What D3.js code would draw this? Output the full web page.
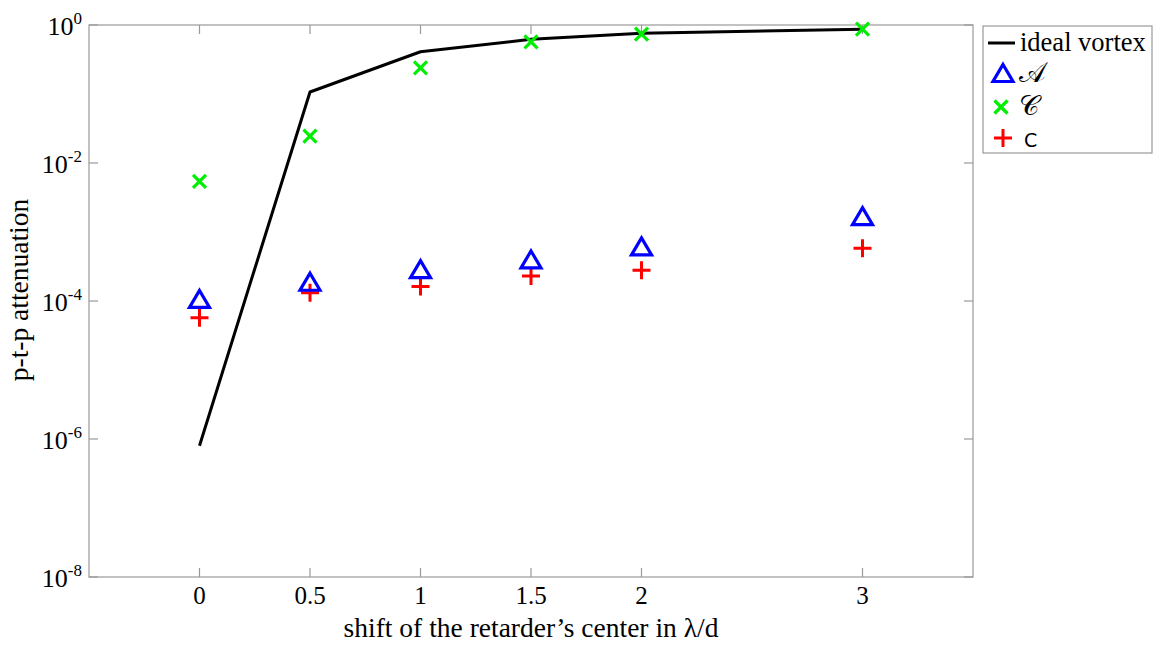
<!DOCTYPE html>
<html>
<head>
<meta charset="utf-8">
<script src="https://cdn.jsdelivr.net/npm/d3@7"></script>
<style>
  html, body { margin: 0; padding: 0; background: #fff; }
  svg { display: block; }
  text { font-family: "Liberation Serif", "Times New Roman", serif; fill: #000; }
</style>
</head>
<body>
<svg id="chart" width="1157" height="648"></svg>
<script>
// Retarder-center shift (λ/d)
const shifts = [0, 0.5, 1, 1.5, 2, 3];
// Ideal vortex attenuation curve
const idealVortex = [8e-7, 0.107, 0.41, 0.62, 0.76, 0.87];
// Measured attenuation for each configuration
const seriesA = [1.07e-4, 1.9e-4, 2.9e-4, 4.0e-4, 6.2e-4, 1.7e-3];
const seriesScriptC = [5.4e-3, 0.0246, 0.24, 0.57, 0.74, 0.87];
const seriesC = [5.7e-5, 1.32e-4, 1.62e-4, 2.3e-4, 2.8e-4, 5.8e-4];
// Axis ticks
const xTicks = [0, 0.5, 1, 1.5, 2, 3];
const yTickExponents = [0, -2, -4, -6, -8];

const svg = d3.select("#chart");
const plotLeft = 89, plotRight = 973, plotTop = 25, plotBottom = 577;

const x = d3.scaleLinear().domain([-0.5, 3.5]).range([plotLeft, plotRight]);
const y = d3.scaleLog().domain([1e-8, 1]).range([plotBottom, plotTop]);

const frameColor = "#999";
const tickLen = 9;

// Plot frame
svg.append("rect")
  .attr("x", plotLeft).attr("y", plotTop)
  .attr("width", plotRight - plotLeft).attr("height", plotBottom - plotTop)
  .attr("fill", "none").attr("stroke", frameColor).attr("stroke-width", 1.2);

// X ticks (bottom and top, pointing inward)
const xt = svg.append("g");
xTicks.forEach(t => {
  const px = x(t);
  xt.append("line").attr("x1", px).attr("x2", px).attr("y1", plotBottom).attr("y2", plotBottom - tickLen)
    .attr("stroke", frameColor).attr("stroke-width", 1.2);
  xt.append("line").attr("x1", px).attr("x2", px).attr("y1", plotTop).attr("y2", plotTop + tickLen)
    .attr("stroke", frameColor).attr("stroke-width", 1.2);
  xt.append("text").attr("x", px).attr("y", 604)
    .attr("text-anchor", "middle").attr("font-size", 25)
    .text(String(t));
});

// Y ticks (left and right, pointing inward), labels as powers of ten
const yt = svg.append("g");
yTickExponents.forEach(e => {
  const py = y(Math.pow(10, e));
  yt.append("line").attr("x1", plotLeft).attr("x2", plotLeft + tickLen).attr("y1", py).attr("y2", py)
    .attr("stroke", frameColor).attr("stroke-width", 1.2);
  yt.append("line").attr("x1", plotRight).attr("x2", plotRight - tickLen).attr("y1", py).attr("y2", py)
    .attr("stroke", frameColor).attr("stroke-width", 1.2);
  const lbl = yt.append("text").attr("x", 82).attr("y", py + 10)
    .attr("text-anchor", "end").attr("font-size", 26);
  lbl.append("tspan").text("10");
  lbl.append("tspan").attr("font-size", 17).attr("dy", -11).text(String(e));
});

// Axis titles
svg.append("text").attr("x", x(1.5)).attr("y", 637)
  .attr("text-anchor", "middle").attr("font-size", 27.5)
  .text("shift of the retarder\u2019s center in \u03bb/d");
svg.append("text")
  .attr("transform", `translate(28,290) rotate(-90)`)
  .attr("text-anchor", "middle").attr("font-size", 27.5)
  .text("p-t-p attenuation");

// Ideal vortex line
const line = d3.line().x((d, i) => x(shifts[i])).y(d => y(d));
svg.append("path").datum(idealVortex)
  .attr("d", line).attr("fill", "none")
  .attr("stroke", "#000").attr("stroke-width", 3).attr("stroke-linejoin", "round");

// Marker shapes
function triangle(g, cx, cy) {
  const w = 10, h = 17;
  g.append("path")
    .attr("d", `M${cx},${cy - h / 2}L${cx + w},${cy + h / 2}L${cx - w},${cy + h / 2}Z`)
    .attr("fill", "none").attr("stroke", "#0000ff").attr("stroke-width", 3.2);
}
function cross(g, cx, cy) {
  const s = 6.5;
  g.append("path")
    .attr("d", `M${cx - s},${cy - s}L${cx + s},${cy + s}M${cx - s},${cy + s}L${cx + s},${cy - s}`)
    .attr("stroke", "#00ee00").attr("stroke-width", 3.2);
}
function plus(g, cx, cy) {
  const s = 9;
  g.append("path")
    .attr("d", `M${cx - s},${cy}L${cx + s},${cy}M${cx},${cy - s}L${cx},${cy + s}`)
    .attr("stroke", "#ff0000").attr("stroke-width", 3);
}

const marks = svg.append("g");
shifts.forEach((s, i) => {
  plus(marks, x(s), y(seriesC[i]));
  triangle(marks, x(s), y(seriesA[i]));
  cross(marks, x(s), y(seriesScriptC[i]));
});

// Legend
const lg = svg.append("g");
lg.append("rect").attr("x", 983).attr("y", 26).attr("width", 169).attr("height", 127)
  .attr("fill", "#fff").attr("stroke", frameColor).attr("stroke-width", 1.2);
lg.append("line").attr("x1", 988).attr("x2", 1015).attr("y1", 43).attr("y2", 43)
  .attr("stroke", "#000").attr("stroke-width", 3);
lg.append("text").attr("x", 1020).attr("y", 51).attr("font-size", 26.5).text("ideal vortex");
triangle(lg, 1003, 73);
lg.append("text").attr("x", 1019).attr("y", 82).attr("font-size", 28)
  .text("\ud835\udc9c");
cross(lg, 1001, 107);
lg.append("text").attr("x", 1019).attr("y", 115).attr("font-size", 28)
  .text("\ud835\udc9e");
plus(lg, 1003, 138);
lg.append("text").attr("x", 1024).attr("y", 146.5).attr("font-size", 19)
  .style("font-family", "'DejaVu Sans', sans-serif").text("C");
</script>
</body>
</html>
